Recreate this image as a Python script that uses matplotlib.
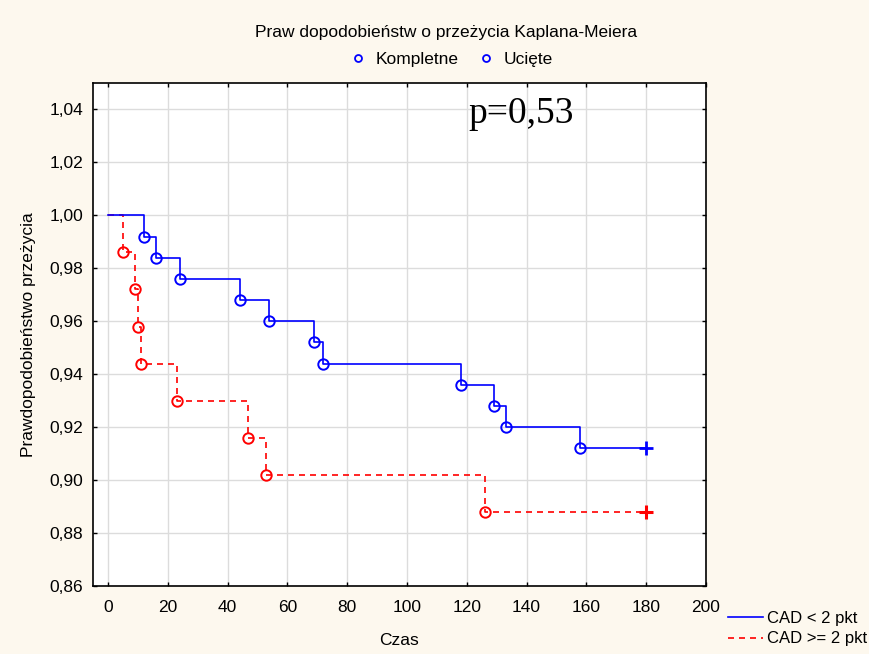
import matplotlib
matplotlib.use("Agg")
import matplotlib.pyplot as plt
from matplotlib.lines import Line2D

# Kaplan-Meier survival steps
t_low = [12, 16, 24, 44, 54, 69, 72, 118, 129, 133, 158]
s_low = [0.992, 0.984, 0.976, 0.968, 0.960, 0.952, 0.944, 0.936, 0.928, 0.920, 0.912]
t_high = [5, 9, 10, 11, 23, 47, 53, 126]
s_high = [0.986, 0.972, 0.958, 0.944, 0.930, 0.916, 0.902, 0.888]
t_end = 180

x_ticks = [0, 20, 40, 60, 80, 100, 120, 140, 160, 180, 200]
y_ticks = [0.86, 0.88, 0.90, 0.92, 0.94, 0.96, 0.98, 1.00, 1.02, 1.04]
y_labels = ["0,86", "0,88", "0,90", "0,92", "0,94", "0,96", "0,98", "1,00", "1,02", "1,04"]

plt.rcParams["font.family"] = ["Liberation Sans", "DejaVu Sans"]
bg = "#fdf8ee"
fs = 12.5

fig = plt.figure(figsize=(8.7, 6.54), dpi=100, facecolor=bg)
ax = fig.add_axes([93 / 870, 1 - 586 / 654, (706 - 93) / 870, (586 - 83) / 654])
ax.set_facecolor("white")


def km_path(times, surv):
    xs = [0] + list(times) + [t_end]
    ys = [1.0] + list(surv) + [surv[-1]]
    return xs, ys


xh, yh = km_path(t_high, s_high)
ax.plot(xh, yh, drawstyle="steps-post", color="red", lw=1.2,
        dashes=(3.6, 3), zorder=3)
ax.plot(t_high, s_high, "o", mfc="none", mec="red", ms=7.5, mew=1.4, zorder=4)
ax.plot([t_end], [s_high[-1]], "+", color="red", ms=10, mew=2.2, zorder=4)

xl, yl = km_path(t_low, s_low)
ax.plot(xl, yl, drawstyle="steps-post", color="blue", lw=1.2, zorder=3)
ax.plot(t_low, s_low, "o", mfc="none", mec="blue", ms=7.5, mew=1.4, zorder=4)
ax.plot([t_end], [s_low[-1]], "+", color="blue", ms=10, mew=2.0, zorder=4)

ax.set_xlim(-5, 200)
ax.set_ylim(0.86, 1.05)
ax.set_xticks(x_ticks)
ax.set_yticks(y_ticks)
ax.set_yticklabels(y_labels)
ax.grid(True, color="#dcdcdc", lw=1.0, zorder=0)
ax.set_axisbelow(True)
ax.tick_params(direction="in", top=True, right=True, length=3, width=1,
               labelsize=fs, colors="black")
ax.tick_params(axis="x", pad=10)
ax.tick_params(axis="y", pad=7)
for sp in ax.spines.values():
    sp.set_linewidth(1.2)

ax.set_xlabel("Czas", fontsize=fs, labelpad=13)
ax.set_ylabel("Prawdopodobieństwo przeżycia", fontsize=fs, labelpad=10)

fig.text(446 / 870, 1 - 32 / 654, "Praw dopodobieństw o przeżycia Kaplana-Meiera",
         ha="center", va="center", fontsize=fs)

# marker legend on top
top_handles = [
    Line2D([], [], ls="none", marker="o", mfc="none", mec="blue", ms=5, mew=1.3),
    Line2D([], [], ls="none", marker="o", mfc="none", mec="blue", ms=5, mew=1.3),
]
fig.legend(top_handles, ["Kompletne", "Ucięte"], loc="center",
           bbox_to_anchor=(452 / 870, 1 - 59 / 654), ncol=2, frameon=False,
           fontsize=fs, handlelength=0.8, handletextpad=0.6, columnspacing=1.2)

# line legend at lower right
line_handles = [
    Line2D([], [], color="blue", lw=1.2),
    Line2D([], [], color="red", lw=1.2, dashes=(3.6, 3)),
]
fig.legend(line_handles, ["CAD < 2 pkt", "CAD >= 2 pkt"], loc="center left",
           bbox_to_anchor=(721 / 870, 1 - 628.5 / 654), frameon=False,
           fontsize=12, handlelength=2.1, handletextpad=0.25, labelspacing=0.35,
           borderaxespad=0)

fig.text(468 / 870, 1 - 114 / 654, "p=0,53", family="Liberation Serif",
         fontsize=27, ha="left", va="center")

fig.savefig("out.png", dpi=100, facecolor=bg)
